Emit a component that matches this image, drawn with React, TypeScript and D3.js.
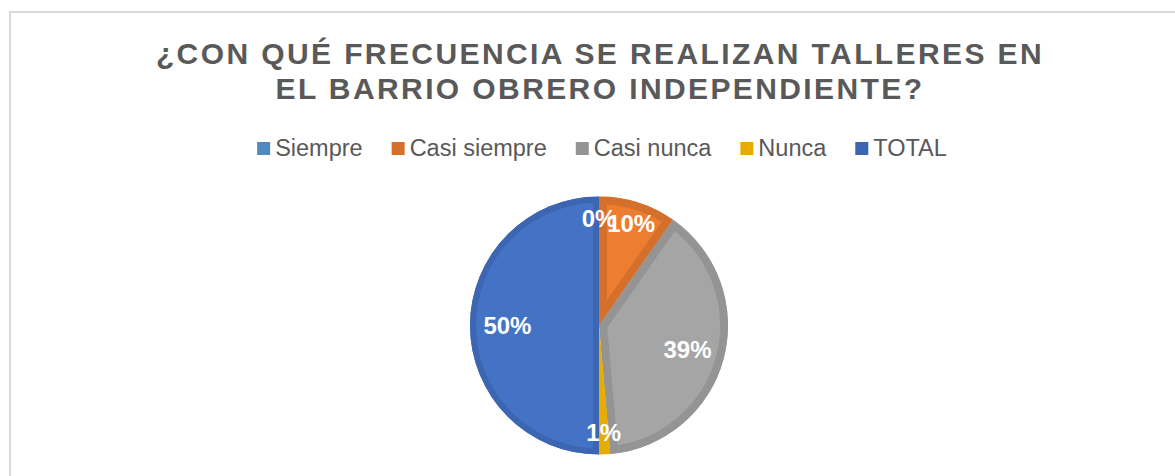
import React, { useEffect, useRef } from "react";
import * as d3 from "d3";

const categories = ["Siempre", "Casi siempre", "Casi nunca", "Nunca", "TOTAL"];
const values = [0, 7, 28, 1, 36];
const fillColors = ["#5B9BD5", "#ED7D31", "#A5A5A5", "#FFC000", "#4472C4"];
const bandColors = ["#4F89BE", "#D5702C", "#949494", "#E6AD00", "#3C66B1"];
const titleLines = ["¿CON QUÉ FRECUENCIA SE REALIZAN TALLERES EN", "EL BARRIO OBRERO INDEPENDIENTE?"];

const W = 1175;
const H = 476;
const FONT = "'Liberation Sans', Arial, sans-serif";

export default function App() {
  const ref = useRef<SVGSVGElement | null>(null);

  useEffect(() => {
    const svg = d3.select(ref.current);
    svg.selectAll("*").remove();

    svg.append("rect").attr("width", W).attr("height", H).attr("fill", "#fff");
    svg
      .append("rect")
      .attr("x", 10)
      .attr("y", 12)
      .attr("width", 1300)
      .attr("height", 600)
      .attr("fill", "none")
      .attr("stroke", "#D9D9D9")
      .attr("stroke-width", 2);

    // Title
    const title = svg
      .append("text")
      .attr("font-family", FONT)
      .attr("font-weight", "bold")
      .attr("font-size", 30)
      .attr("letter-spacing", 2.4)
      .attr("fill", "#595959")
      .attr("text-anchor", "middle");
    const baselines = [64, 99];
    titleLines.forEach((t, i) => {
      title.append("tspan").attr("x", 600).attr("y", baselines[i]).text(t);
    });

    // Legend
    const legend = svg.append("g");
    const markerSize = 13;
    const gap = 5;
    const spacing = 29;
    let x = 0;
    categories.forEach((c, i) => {
      const g = legend.append("g");
      g.append("rect")
        .attr("x", x)
        .attr("y", 142)
        .attr("width", markerSize)
        .attr("height", markerSize)
        .attr("fill", bandColors[i]);
      const txt = g
        .append("text")
        .attr("x", x + markerSize + gap)
        .attr("y", 156)
        .attr("font-family", FONT)
        .attr("font-size", 23.5)
        .attr("fill", "#595959")
        .text(c);
      const w = (txt.node() as SVGTextElement).getComputedTextLength();
      x += markerSize + gap + w + spacing;
    });
    const totalW = x - spacing;
    legend.attr("transform", `translate(${602 - totalW / 2},0)`);

    // Pie
    const cx = 599;
    const cy = 325.5;
    const r = 129;
    const data = categories.map((c, i) => ({ c, v: values[i], i }));
    const total = d3.sum(values);
    const pie = d3
      .pie<{ c: string; v: number; i: number }>()
      .value((d) => d.v)
      .sort(null)
      .startAngle(0)
      .endAngle(2 * Math.PI);
    const arcs = pie(data);
    const arc = d3.arc<d3.PieArcDatum<{ c: string; v: number; i: number }>>().innerRadius(0).outerRadius(r);

    const defs = svg.append("defs");
    const pg = svg.append("g").attr("transform", `translate(${cx},${cy})`);
    arcs.forEach((a, k) => {
      if (a.data.v === 0) return;
      const id = `clip-${k}`;
      const p = arc(a) as string;
      defs.append("clipPath").attr("id", id).append("path").attr("d", p);
      pg.append("path").attr("d", p).attr("fill", fillColors[a.data.i]);
      pg.append("path")
        .attr("d", p)
        .attr("fill", "none")
        .attr("stroke", bandColors[a.data.i])
        .attr("stroke-width", a.data.i === 4 ? 12 : 16)
        .attr("stroke-linejoin", "round")
        .attr("clip-path", `url(#${id})`);
    });

    // Labels
    const lg = svg.append("g").attr("transform", `translate(${cx},${cy})`);
    arcs.forEach((a) => {
      const share = a.data.v / total;
      const lr = share < 0.15 ? r * 0.83 : r * 0.71;
      const la = d3.arc<any>().innerRadius(lr).outerRadius(lr);
      const [lx, ly] = la.centroid(a);
      lg.append("text")
        .attr("x", lx)
        .attr("y", ly)
        .attr("dy", "0.36em")
        .attr("text-anchor", "middle")
        .attr("font-family", FONT)
        .attr("font-weight", "bold")
        .attr("font-size", 24)
        .attr("fill", "#ffffff")
        .text(`${Math.round(share * 100)}%`);
    });
  }, []);

  return (
    <svg
      ref={ref}
      width={W}
      height={H}
      style={{ position: "absolute", left: 0, top: 0, display: "block" }}
    />
  );
}
